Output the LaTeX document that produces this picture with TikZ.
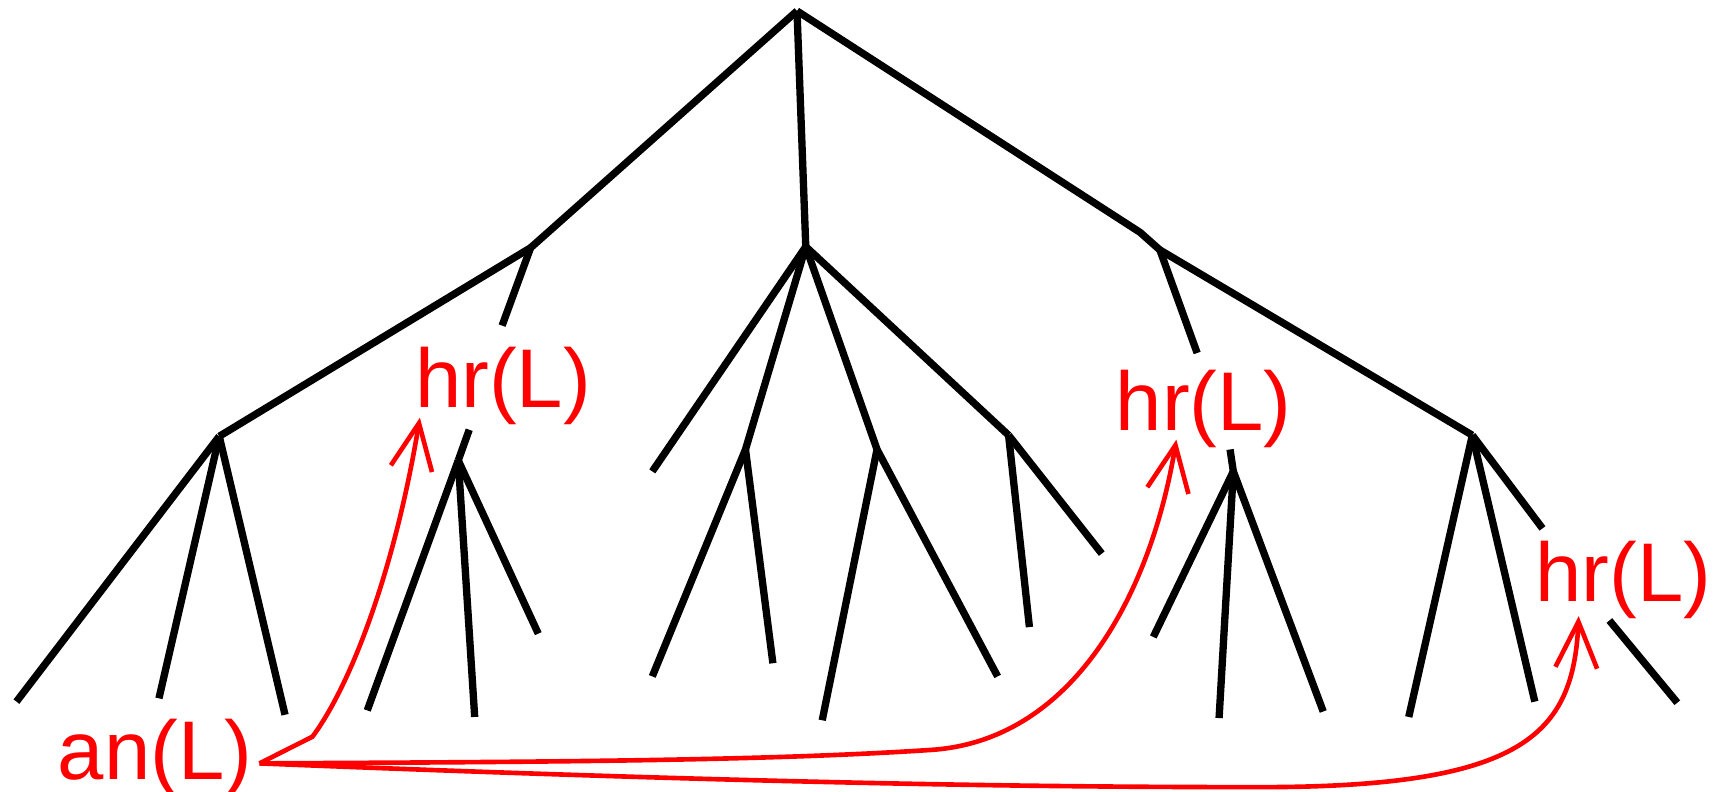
\documentclass[tikz,border=0pt]{standalone}
\usepackage{fontspec}
\setmainfont{Liberation Sans}
\usetikzlibrary{arrows.meta}
\begin{document}
\begin{tikzpicture}[x=0.01cm,y=-0.01cm,
  edge/.style={line width=1.9pt, black, line join=round},
  lab/.style={text=red, font=\fontsize{21.6}{24}\selectfont, inner sep=0pt, anchor=base west},
  link/.style={red, line width=1.2pt, -{Straight Barb[length=4.2mm,width=3.8mm]}}
]
\useasboundingbox (0,0) rectangle (1568,722);
% tree points
\coordinate (R) at (727,10);
\coordinate (A) at (484,226);
\coordinate (a1) at (458,297);
\coordinate (B) at (200,398);
\coordinate (b1) at (15,640);
\coordinate (b2) at (145,637);
\coordinate (b3) at (260,652);
\coordinate (H1t) at (428,392);
\coordinate (H1) at (418,420);
\coordinate (h11) at (335,648);
\coordinate (h12) at (433,654);
\coordinate (h13) at (491,578);
\coordinate (C) at (735,225);
\coordinate (c1) at (595,430);
\coordinate (E) at (680,410);
\coordinate (e1) at (595,617);
\coordinate (e2) at (705,605);
\coordinate (F) at (800,410);
\coordinate (f1) at (750,657);
\coordinate (f2) at (910,617);
\coordinate (G) at (920,397);
\coordinate (g1) at (939,572);
\coordinate (g2) at (1005,505);
\coordinate (Dk) at (1040,212);
\coordinate (D) at (1058,228);
\coordinate (d1) at (1092,322);
\coordinate (H2t) at (1122,410);
\coordinate (H2) at (1125,430);
\coordinate (h21) at (1052,581);
\coordinate (h22) at (1112,655);
\coordinate (h23) at (1207,649);
\coordinate (I) at (1343,397);
\coordinate (i1) at (1285,654);
\coordinate (i2) at (1400,640);
\coordinate (i3) at (1407,482);
\coordinate (J1) at (1468,566);
\coordinate (J2) at (1530,641);
% edges
\draw[edge] (R) -- (A);
\draw[edge] (R) -- (C);
\draw[edge] (R) -- (Dk) -- (D);
\draw[edge] (A) -- (a1);
\draw[edge] (A) -- (B);
\draw[edge] (B) -- (b1);
\draw[edge] (B) -- (b2);
\draw[edge] (B) -- (b3);
\draw[edge] (H1t) -- (H1);
\draw[edge] (H1) -- (h11);
\draw[edge] (H1) -- (h12);
\draw[edge] (H1) -- (h13);
\draw[edge] (C) -- (c1);
\draw[edge] (C) -- (E);
\draw[edge] (C) -- (F);
\draw[edge] (C) -- (G);
\draw[edge] (E) -- (e1);
\draw[edge] (E) -- (e2);
\draw[edge] (F) -- (f1);
\draw[edge] (F) -- (f2);
\draw[edge] (G) -- (g1);
\draw[edge] (G) -- (g2);
\draw[edge] (D) -- (d1);
\draw[edge] (D) -- (I);
\draw[edge] (H2t) -- (H2);
\draw[edge] (H2) -- (h21);
\draw[edge] (H2) -- (h22);
\draw[edge] (H2) -- (h23);
\draw[edge] (I) -- (i1);
\draw[edge] (I) -- (i2);
\draw[edge] (I) -- (i3);
\draw[edge] (J1) -- (J2);
% labels
\node[lab] (an) at (52,711) {an(L)};
\node[lab] (hr1) at (378,372) {hr(L)};
\node[lab] (hr2) at (1017,393) {hr(L)};
\node[lab] (hr3) at (1400,549) {hr(L)};
% red arrows
\coordinate (s) at ([xshift=0.6mm,yshift=-0.5mm]an.east);
\draw[link] (s) -- (285,672) .. controls (320,625) and (360,520) .. ([xshift=0.5mm,yshift=-0.9mm]hr1.base west);
\draw[link] (s) .. controls (500,695) and (700,694) .. (850,684) .. controls (980,675) and (1050,540) .. ([xshift=5.6mm,yshift=-0.8mm]hr2.base west);
\draw[link] (s) .. controls (700,715) and (950,718) .. (1150,718) .. controls (1390,718) and (1435,670) .. ([xshift=4.0mm,yshift=-1.3mm]hr3.base west);
\end{tikzpicture}
\end{document}
